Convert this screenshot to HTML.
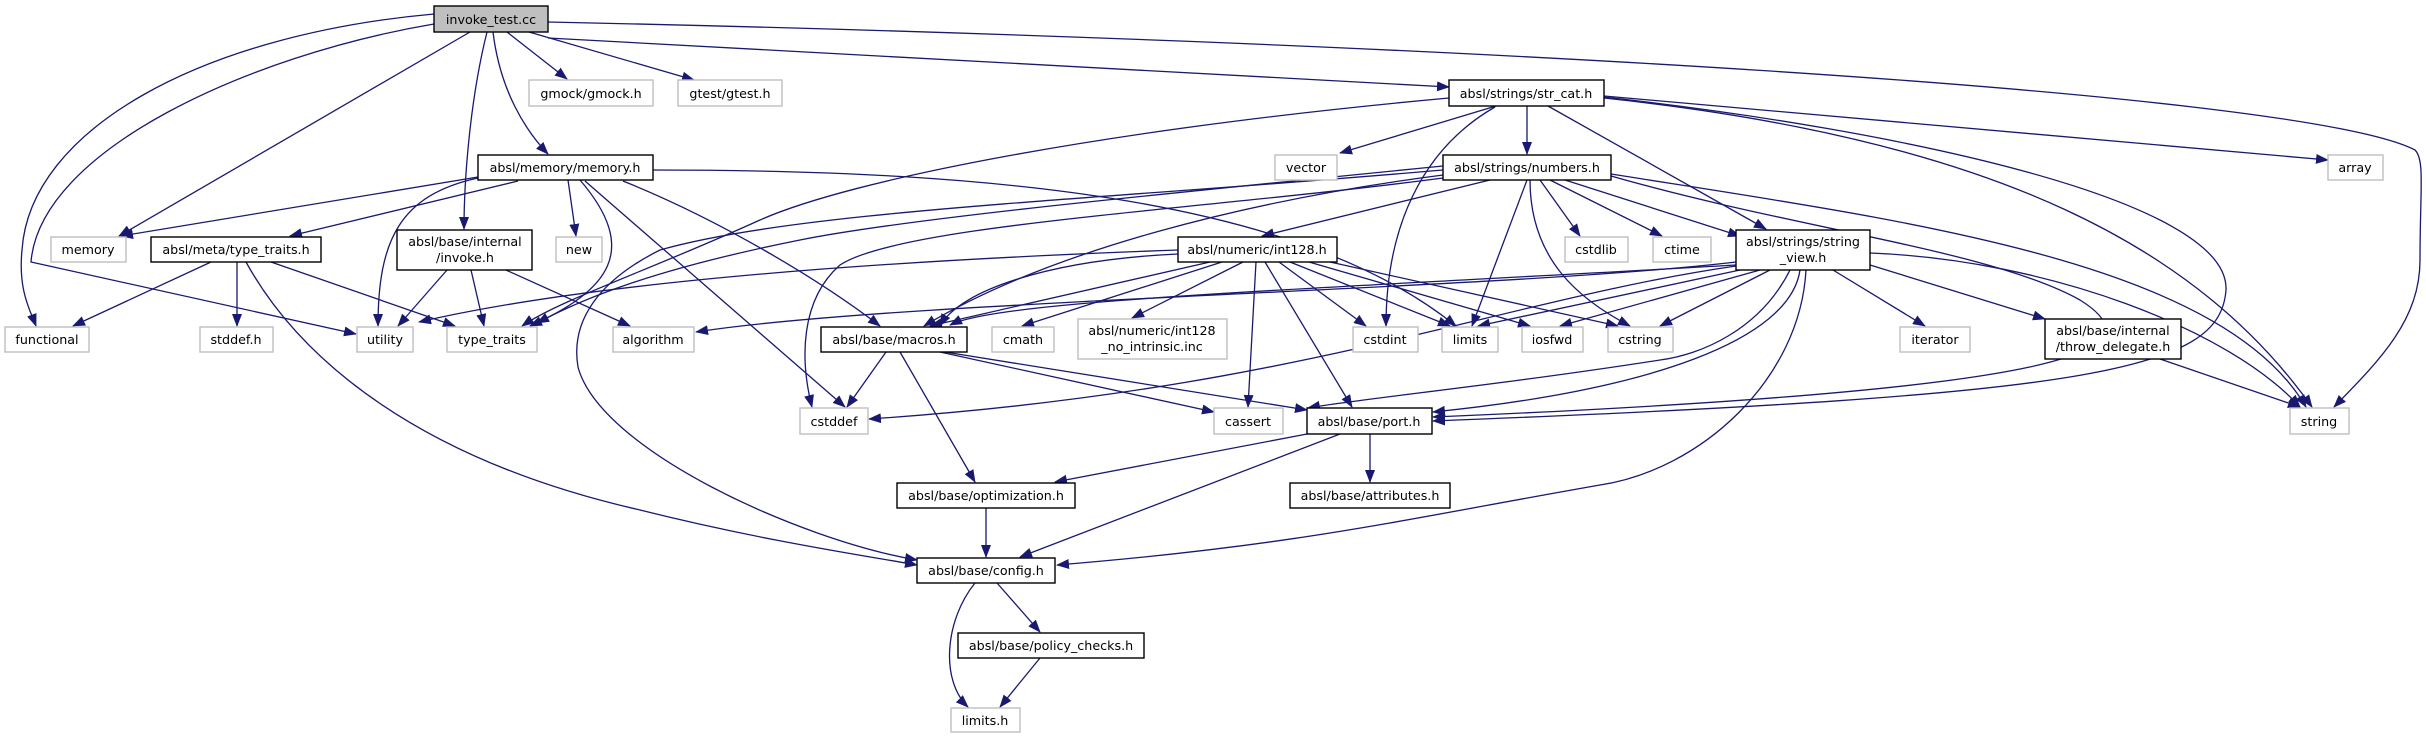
<!DOCTYPE html>
<html><head><meta charset="utf-8"><style>
html,body{margin:0;padding:0;background:#fff}
svg{display:block}
text{font-family:"DejaVu Sans","Liberation Sans",sans-serif;font-size:12.7px;fill:#000;text-anchor:middle}
.e{fill:none;stroke:#191970;stroke-width:1.3;marker-end:url(#a)}
.b{fill:#fff;stroke:#000;stroke-width:1.4}
.g{fill:#fff;stroke:#bfbfbf;stroke-width:1.4}
</style></head><body>
<svg width="2426" height="739" viewBox="0 0 2426 739" xmlns="http://www.w3.org/2000/svg">
<defs><marker id="a" markerWidth="13" markerHeight="10" refX="12" refY="5" orient="auto" markerUnits="userSpaceOnUse"><path d="M0,0 L13,5 L0,10z" fill="#191970"/></marker></defs>
<g>
<path class="e" d="M434,14 C200,35 30,130 22,250 C18,290 30,310 36,326"/>
<path class="e" d="M434,24 C250,55 40,150 31,262 L356,334"/>
<path class="e" d="M470,32 L119,236"/>
<path class="e" d="M487,32 C470,100 464,180 464,229"/>
<path class="e" d="M493,32 C500,90 525,130 548,154"/>
<path class="e" d="M507,32 L567,79"/>
<path class="e" d="M529,32 L694,80"/>
<path class="e" d="M548,38 L1449,87"/>
<path class="e" d="M548,22 C1400,40 2300,90 2415,150 C2425,160 2420,190 2420,260 C2420,320 2380,360 2334,407"/>
<path class="e" d="M478,177 L121,236"/>
<path class="e" d="M518,181 L290,236"/>
<path class="e" d="M478,178 C400,195 378,240 378,326"/>
<path class="e" d="M568,180 L576,236"/>
<path class="e" d="M580,180 C640,250 610,290 530,326"/>
<path class="e" d="M585,181 L845,407"/>
<path class="e" d="M623,181 C720,220 820,280 880,326"/>
<path class="e" d="M653,170 C1000,170 1300,200 1456,326"/>
<path class="e" d="M211,262 L73,326"/>
<path class="e" d="M237,262 L237,326"/>
<path class="e" d="M271,262 L455,326"/>
<path class="e" d="M246,262 C300,360 420,460 640,510 C760,540 860,555 917,565"/>
<path class="e" d="M447,270 L398,326"/>
<path class="e" d="M471,270 L484,326"/>
<path class="e" d="M506,270 L630,326"/>
<path class="e" d="M1449,98 C1100,130 850,180 760,220 C650,270 560,300 522,326"/>
<path class="e" d="M1496,106 L1340,153"/>
<path class="e" d="M1527,106 L1527,154"/>
<path class="e" d="M1495,107 C1420,150 1386,230 1386,326"/>
<path class="e" d="M1548,106 L1766,229"/>
<path class="e" d="M1604,97 C1900,130 2230,200 2226,290 C2220,370 2100,395 1433,421"/>
<path class="e" d="M1604,98 C2000,140 2200,250 2312,407"/>
<path class="e" d="M1604,96 L2328,160"/>
<path class="e" d="M1490,180 L1262,236"/>
<path class="e" d="M1443,166 C1100,200 900,220 800,240 C650,270 580,300 537,323"/>
<path class="e" d="M1443,175 C1250,200 1050,250 924,326"/>
<path class="e" d="M1443,178 C1200,210 900,225 840,265 C800,300 800,360 812,407"/>
<path class="e" d="M1443,170 C1100,200 800,210 660,250 C600,280 570,320 578,367 C600,450 800,540 917,560"/>
<path class="e" d="M1527,180 L1472,326"/>
<path class="e" d="M1530,180 C1530,260 1580,300 1630,326"/>
<path class="e" d="M1540,180 L1580,236"/>
<path class="e" d="M1550,180 L1662,236"/>
<path class="e" d="M1565,180 L1740,236"/>
<path class="e" d="M1611,174 C1900,220 2220,260 2306,407"/>
<path class="e" d="M1611,176 C1800,230 1990,250 2080,300 C2160,350 2080,390 1433,417"/>
<path class="e" d="M1178,250 C900,260 600,280 419,322"/>
<path class="e" d="M1178,254 C1050,260 960,290 940,326"/>
<path class="e" d="M1210,262 L930,326"/>
<path class="e" d="M1222,262 L1022,326"/>
<path class="e" d="M1243,262 L1132,318"/>
<path class="e" d="M1256,262 L1248,407"/>
<path class="e" d="M1265,262 L1352,407"/>
<path class="e" d="M1279,262 L1366,326"/>
<path class="e" d="M1290,262 L1450,326"/>
<path class="e" d="M1309,262 L1530,326"/>
<path class="e" d="M1330,262 L1618,326"/>
<path class="e" d="M1736,262 C1500,290 900,300 696,332"/>
<path class="e" d="M1736,265 C1300,290 1000,300 950,325"/>
<path class="e" d="M1736,266 C1500,300 1300,390 869,419"/>
<path class="e" d="M1740,270 L1478,326"/>
<path class="e" d="M1760,270 L1560,326"/>
<path class="e" d="M1770,270 L1660,326"/>
<path class="e" d="M1790,270 C1760,330 1700,355 1660,360 C1500,385 1350,400 1308,408"/>
<path class="e" d="M1800,270 C1790,340 1650,390 1433,412"/>
<path class="e" d="M1806,270 C1800,380 1700,470 1600,485 C1400,520 1300,545 1057,565"/>
<path class="e" d="M1833,270 L1925,326"/>
<path class="e" d="M1870,265 L2045,319"/>
<path class="e" d="M1870,253 C2050,260 2230,330 2300,407"/>
<path class="e" d="M886,352 L847,407"/>
<path class="e" d="M900,352 L975,482"/>
<path class="e" d="M940,352 L1214,412"/>
<path class="e" d="M945,352 L1307,410"/>
<path class="e" d="M1307,434 L1055,482"/>
<path class="e" d="M1340,434 L1020,557"/>
<path class="e" d="M1370,434 L1370,482"/>
<path class="e" d="M986,508 L986,557"/>
<path class="e" d="M997,583 L1040,632"/>
<path class="e" d="M975,583 C945,620 940,680 968,707"/>
<path class="e" d="M1040,658 L1000,707"/>
<path class="e" d="M2160,359 L2300,407"/>
</g>
<g>
<rect x="434" y="6" width="114" height="26" fill="#bfbfbf" stroke="#000" stroke-width="1.4"/><text x="491" y="24">invoke_test.cc</text>
<rect class="g" x="529" y="80" width="124" height="26"/><text x="591" y="98">gmock/gmock.h</text>
<rect class="g" x="678" y="80" width="104" height="26"/><text x="730" y="98">gtest/gtest.h</text>
<rect class="b" x="1449" y="80" width="155" height="26"/><text x="1526" y="98">absl/strings/str_cat.h</text>
<rect class="b" x="478" y="155" width="175" height="25"/><text x="565" y="172">absl/memory/memory.h</text>
<rect class="g" x="1275" y="155" width="62" height="25"/><text x="1306" y="172">vector</text>
<rect class="b" x="1443" y="155" width="168" height="25"/><text x="1527" y="172">absl/strings/numbers.h</text>
<rect class="g" x="2328" y="155" width="55" height="25"/><text x="2355" y="172">array</text>
<rect class="g" x="51" y="237" width="75" height="25"/><text x="88" y="254">memory</text>
<rect class="b" x="151" y="237" width="170" height="25"/><text x="236" y="254">absl/meta/type_traits.h</text>
<rect class="b" x="397" y="230" width="135" height="40"/><text x="465" y="246">absl/base/internal</text><text x="465" y="262">/invoke.h</text>
<rect class="g" x="556" y="237" width="46" height="25"/><text x="579" y="254">new</text>
<rect class="b" x="1178" y="237" width="159" height="25"/><text x="1257" y="254">absl/numeric/int128.h</text>
<rect class="g" x="1565" y="237" width="63" height="25"/><text x="1596" y="254">cstdlib</text>
<rect class="g" x="1653" y="237" width="58" height="25"/><text x="1682" y="254">ctime</text>
<rect class="b" x="1736" y="230" width="134" height="40"/><text x="1803" y="246">absl/strings/string</text><text x="1803" y="262">_view.h</text>
<rect class="g" x="5" y="327" width="84" height="25"/><text x="47" y="344">functional</text>
<rect class="g" x="200" y="327" width="73" height="25"/><text x="236" y="344">stddef.h</text>
<rect class="g" x="357" y="327" width="56" height="25"/><text x="385" y="344">utility</text>
<rect class="g" x="447" y="327" width="90" height="25"/><text x="492" y="344">type_traits</text>
<rect class="g" x="613" y="327" width="81" height="25"/><text x="653" y="344">algorithm</text>
<rect class="b" x="821" y="327" width="146" height="25"/><text x="894" y="344">absl/base/macros.h</text>
<rect class="g" x="992" y="327" width="62" height="25"/><text x="1023" y="344">cmath</text>
<rect class="g" x="1078" y="319" width="149" height="40"/><text x="1152" y="335">absl/numeric/int128</text><text x="1152" y="351">_no_intrinsic.inc</text>
<rect class="g" x="1353" y="327" width="65" height="25"/><text x="1385" y="344">cstdint</text>
<rect class="g" x="1442" y="327" width="56" height="25"/><text x="1470" y="344">limits</text>
<rect class="g" x="1522" y="327" width="61" height="25"/><text x="1552" y="344">iosfwd</text>
<rect class="g" x="1608" y="327" width="65" height="25"/><text x="1640" y="344">cstring</text>
<rect class="g" x="1900" y="327" width="70" height="25"/><text x="1935" y="344">iterator</text>
<rect class="b" x="2045" y="319" width="136" height="40"/><text x="2113" y="335">absl/base/internal</text><text x="2113" y="351">/throw_delegate.h</text>
<rect class="g" x="800" y="408" width="68" height="26"/><text x="834" y="426">cstddef</text>
<rect class="g" x="1214" y="408" width="69" height="26"/><text x="1248" y="426">cassert</text>
<rect class="b" x="1307" y="408" width="125" height="26"/><text x="1369" y="426">absl/base/port.h</text>
<rect class="g" x="2290" y="408" width="59" height="26"/><text x="2319" y="426">string</text>
<rect class="b" x="897" y="483" width="178" height="25"/><text x="986" y="500">absl/base/optimization.h</text>
<rect class="b" x="1290" y="483" width="160" height="25"/><text x="1370" y="500">absl/base/attributes.h</text>
<rect class="b" x="917" y="558" width="138" height="25"/><text x="986" y="575">absl/base/config.h</text>
<rect class="b" x="958" y="633" width="186" height="25"/><text x="1051" y="650">absl/base/policy_checks.h</text>
<rect class="g" x="951" y="708" width="69" height="24"/><text x="985" y="725">limits.h</text>
</g>
</svg>
</body></html>
